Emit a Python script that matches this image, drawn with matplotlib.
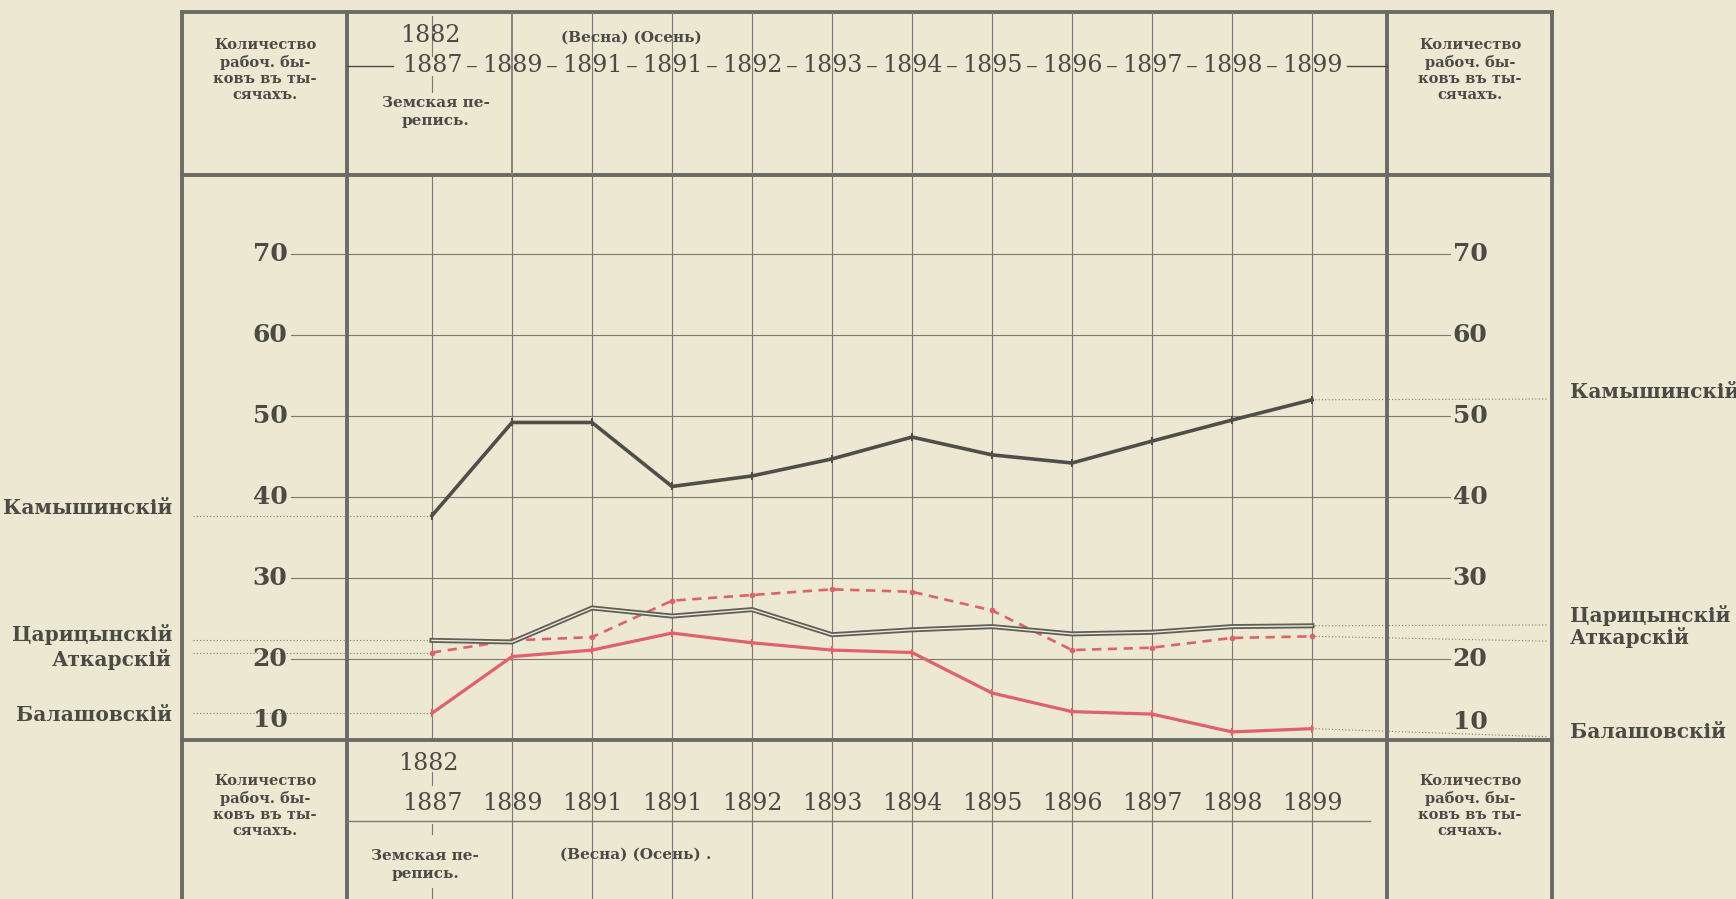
import matplotlib
matplotlib.use('Agg')
import matplotlib.pyplot as plt
import matplotlib.transforms as mtransforms
import numpy as np

plt.rcParams['font.family'] = ['DejaVu Serif']

# data: working oxen, thousands
years = ['1887', '1889', '1891', '1891', '1892', '1893', '1894', '1895', '1896', '1897', '1898', '1899']
kamyshin = [37.7, 49.2, 49.2, 41.3, 42.6, 44.7, 47.4, 45.2, 44.2, 46.9, 49.5, 52.0]
tsaritsyn = [22.3, 22.1, 26.3, 25.3, 26.1, 23.0, 23.6, 24.0, 23.1, 23.3, 24.0, 24.1]
atkarsk = [20.8, 22.3, 22.7, 27.2, 27.9, 28.6, 28.3, 26.0, 21.1, 21.4, 22.6, 22.8]
balashov = [13.3, 20.3, 21.1, 23.2, 22.0, 21.1, 20.8, 15.8, 13.5, 13.2, 11.0, 11.4]
ticks = [10, 20, 30, 40, 50, 60, 70]
names = ['Камышинскій', 'Царицынскій', 'Аткарскій', 'Балашовскій']
box_text = 'Количество\nрабоч. бы-\nковъ въ ты-\nсячахъ.'

PAPER = '#ece8d2'
INK = '#4a4a46'
GRID = '#7a7a74'
BORDER = '#6a6a66'
RED = '#e0606c'

W, H = 1736, 899
fig = plt.figure(figsize=(W / 100, H / 100), dpi=100, facecolor=PAPER)

# layout in pixels
left_out, left_div, right_div, right_out = 182, 347, 1387, 1552
top_out, plot_top, plot_bot = 12, 175, 740
col0, colw, ppu = 432, 80, 8.1
year_row = 66


def px2x(p):
    return (p - col0) / colw


def px2y(p):
    return 10 + (plot_bot - p) / ppu


ax = fig.add_axes([left_div / W, 1 - plot_bot / H, (right_div - left_div) / W, (plot_bot - plot_top) / H])
ax.set_xlim(px2x(left_div), px2x(right_div))
ax.set_ylim(10, px2y(plot_top))
ax.set_facecolor('none')
for s in ax.spines.values():
    s.set_visible(False)
x = np.arange(len(years))
ax.set_xticks(x)
ax.set_yticks(ticks)
ax.tick_params(length=0, labelbottom=False, labelleft=False)
ax.grid(True, color=GRID, lw=0.8)

# series
ax.plot(x, kamyshin, color='#4e4e4a', lw=2.6, marker='|', ms=6, mew=1.5, zorder=5)
ax.plot(x, tsaritsyn, color='#5e5e5a', lw=3.6, zorder=5)
ax.plot(x, tsaritsyn, color=PAPER, lw=1.0, zorder=5)
ax.plot(x, atkarsk, color=RED, lw=1.9, ls=(0, (3.5, 2.5)), marker='o', ms=3, zorder=4)
ax.plot(x, balashov, color=RED, lw=2.3, marker='|', ms=6, mew=1.5, zorder=4)

# leader lines to the district names
firsts = [kamyshin[0], tsaritsyn[0], atkarsk[0], balashov[0]]
lasts = [kamyshin[-1], tsaritsyn[-1], atkarsk[-1], balashov[-1]]
left_name_y = [38.6, 23.0, 19.9, 13.1]
right_name_y = [53.0, 25.4, 22.6, 11.0]
right_end = [52.1, 24.2, 22.2, 10.4]
for v, ny in zip(firsts, left_name_y):
    ax.plot([px2x(193), 0], [v, v], color=GRID, lw=0.8, ls=(0, (1, 2)), clip_on=False)
for v, e in zip(lasts, right_end):
    ax.plot([x[-1], px2x(1548)], [v, e], color=GRID, lw=0.8, ls=(0, (1, 2)), clip_on=False)
for nm, ny in zip(names, left_name_y):
    ax.text(px2x(172), ny, nm, ha='right', va='center', fontsize=14.5, fontweight='bold', color=INK)
for nm, ny in zip(names, right_name_y):
    ax.text(px2x(1570), ny, nm, ha='left', va='center', fontsize=14.5, fontweight='bold', color=INK)

# scale labels in side columns
for t in ticks:
    if t == 10:
        ax.text(px2x(270), px2y(720), '10', ha='center', va='center', fontsize=18, fontweight='bold', color=INK)
        ax.text(px2x(1470), px2y(722), '10', ha='center', va='center', fontsize=18, fontweight='bold', color=INK)
        continue
    ax.text(px2x(270), t, str(t), ha='center', va='center', fontsize=18, fontweight='bold', color=INK)
    ax.text(px2x(1470), t, str(t), ha='center', va='center', fontsize=18, fontweight='bold', color=INK)
    ax.plot([px2x(291), px2x(left_div)], [t, t], color=GRID, lw=0.8, clip_on=False)
    ax.plot([px2x(right_div), px2x(1450)], [t, t], color=GRID, lw=0.8, clip_on=False)

# table frame and header / footer
ov = fig.add_axes([0, 0, 1, 1], zorder=3)
ov.set_xlim(0, W)
ov.set_ylim(H, 0)
ov.axis('off')
trans = mtransforms.blended_transform_factory(ax.transData, ov.transData)

for yy in (top_out, plot_top, plot_bot):
    ov.plot([left_out, right_out], [yy, yy], color=BORDER, lw=2.8, solid_capstyle='projecting')
for xx in (left_out, left_div, right_div, right_out):
    ov.plot([xx, xx], [top_out, H], color=BORDER, lw=2.8, solid_capstyle='projecting')

for i in x[1:]:
    lw = 1.3 if i == 1 else 0.8
    ov.plot([i, i], [top_out, plot_top], color=GRID, lw=lw, transform=trans)
    ov.plot([i, i], [plot_bot, H], color=GRID, lw=0.8, transform=trans)
for y0, y1 in ((16, 56), (76, 92), (772, 785), (824, 834), (888, H)):
    ov.plot([0, 0], [y0, y1], color=GRID, lw=0.8, transform=trans)

# header
ov.text(430, 35, '1882', ha='center', va='center', fontsize=17, color=INK)
ov.text(631, 38, '(Весна) (Осень)', ha='center', va='center', fontsize=11, fontweight='bold', color=INK)
ov.text(436, 112, 'Земская пе-\nрепись.', ha='center', va='center', fontsize=11, fontweight='bold',
        color=INK, linespacing=1.35)
ov.plot([left_div, 393], [year_row, year_row], color=INK, lw=1.0)
ov.plot([1347, right_div], [year_row, year_row], color=INK, lw=1.0)
for i, yr in enumerate(years):
    ov.text(i, year_row, yr, ha='center', va='center', fontsize=17, color=INK, transform=trans)
    if i < len(years) - 1:
        ov.text(i + 0.5, year_row, '–', ha='center', va='center', fontsize=17, color=INK, transform=trans)

# footer
ov.text(428, 763, '1882', ha='center', va='center', fontsize=17, color=INK)
ov.plot([left_div, 1370], [821, 821], color=GRID, lw=1.0)
for i, yr in enumerate(years):
    ov.text(i, 803, yr, ha='center', va='center', fontsize=17, color=INK, transform=trans)
ov.text(425, 865, 'Земская пе-\nрепись.', ha='center', va='center', fontsize=11, fontweight='bold',
        color=INK, linespacing=1.35)
ov.text(636, 855, '(Весна) (Осень) .', ha='center', va='center', fontsize=11, fontweight='bold', color=INK)

# side boxes
for cx, cy in ((265, 70), (1470, 70), (265, 806), (1470, 806)):
    ov.text(cx, cy, box_text, ha='center', va='center', fontsize=10.5, fontweight='bold',
            color=INK, linespacing=1.2, multialignment='center')

fig.savefig('out.png', dpi=100, facecolor=PAPER)
